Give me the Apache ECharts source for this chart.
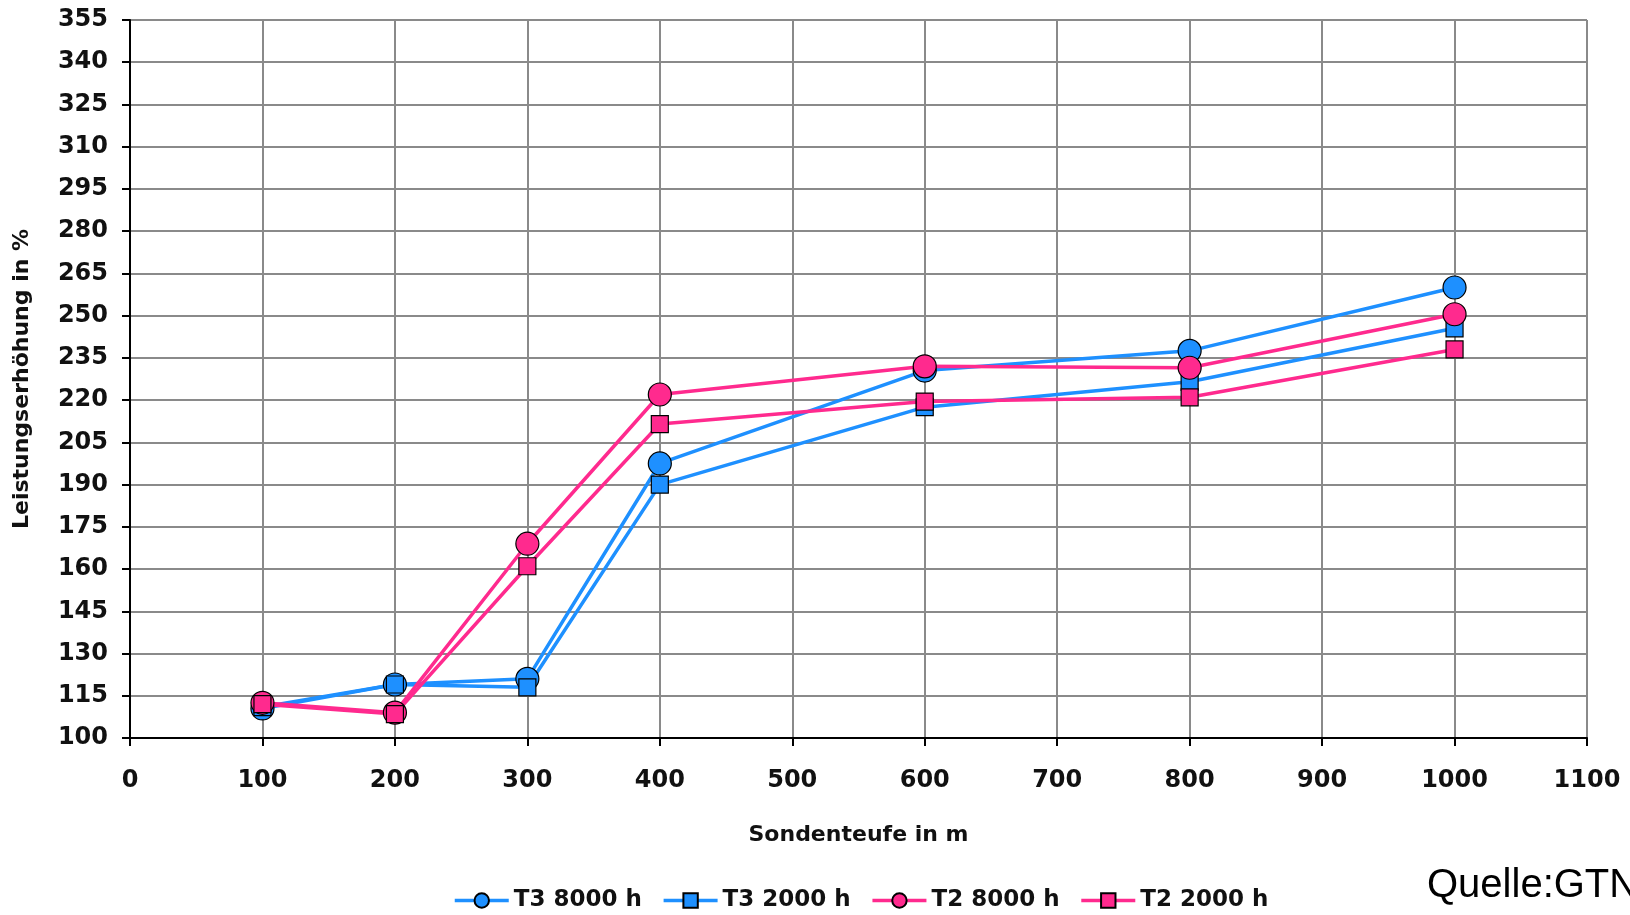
<!DOCTYPE html>
<html>
<head>
<meta charset="utf-8">
<script src="https://cdn.jsdelivr.net/npm/echarts@6/dist/echarts.min.js"></script>
<style>
html,body{margin:0;padding:0;background:#fff;}
#chart{width:1630px;height:915px;}
</style>
</head>
<body>
<div id="chart"></div>
<script>
const depths = [100, 200, 300, 400, 600, 800, 1000];
const t3_8000 = [110.5, 119, 121, 197.5, 230.5, 237.5, 260];
const t3_2000 = [111, 119, 118, 190, 217.5, 226.5, 245.5];
const t2_8000 = [112.5, 109, 169, 222, 232, 231.5, 250.5];
const t2_2000 = [112, 108.5, 161, 211.5, 219.5, 221, 238];
const seriesNames = ['T3 8000 h', 'T3 2000 h', 'T2 8000 h', 'T2 2000 h'];
const xAxisTitle = 'Sondenteufe in m';
const yAxisTitle = 'Leistungserhöhung in %';
const sourceText = 'Quelle:GTN';

const BLUE = '#1E90FF';
const PINK = '#FF2A8E';
const FONT = 'DejaVu Sans';

function pairs(vals) { return depths.map((d, i) => [d, vals[i]]); }
function mk(name, vals, color, symbol, size) {
  return {
    name: name, type: 'line', data: pairs(vals),
    symbol: symbol, symbolSize: size, showAllSymbol: true,
    lineStyle: { color: color, width: 3.5 },
    itemStyle: { color: color, borderColor: '#000', borderWidth: 1.2 },
    emphasis: { disabled: true },
    animation: false
  };
}

const chart = echarts.init(document.getElementById('chart'), null, { renderer: 'canvas' });
chart.setOption({
  backgroundColor: '#fff',
  animation: false,
  grid: { left: 130, right: 43, top: 20, bottom: 177, containLabel: false },
  xAxis: {
    type: 'value', min: 0, max: 1100, interval: 100,
    name: xAxisTitle, nameLocation: 'middle', nameGap: 86,
    nameTextStyle: { fontFamily: FONT, fontSize: 22, fontWeight: 'bold', color: '#111' },
    axisLine: { show: true, lineStyle: { color: '#000', width: 2 } },
    axisTick: { show: true, length: 8, lineStyle: { color: '#000', width: 2 } },
    axisLabel: { fontFamily: FONT, fontSize: 24, fontWeight: 'bold', color: '#111', margin: 31,
                 formatter: v => String(v) },
    splitLine: { show: true, lineStyle: { color: '#8a8a8a', width: 2 } }
  },
  yAxis: {
    type: 'value', min: 100, max: 355, interval: 15,
    name: yAxisTitle, nameLocation: 'middle', nameGap: 97, nameRotate: 90,
    nameTextStyle: { fontFamily: FONT, fontSize: 22, fontWeight: 'bold', color: '#111' },
    axisLine: { show: true, lineStyle: { color: '#000', width: 2 } },
    axisTick: { show: true, length: 8, lineStyle: { color: '#000', width: 2 } },
    axisLabel: { fontFamily: FONT, fontSize: 24, fontWeight: 'bold', color: '#111', margin: 22,
                 formatter: v => String(v) },
    splitLine: { show: true, lineStyle: { color: '#8a8a8a', width: 2 } }
  },
  legend: {
    data: seriesNames, bottom: -2, left: 448,
    itemWidth: 54, itemHeight: 18, itemGap: 20,
    lineStyle: { width: 3.5 },
    textStyle: { fontFamily: FONT, fontSize: 23, fontWeight: 'bold', color: '#111' }
  },
  graphic: [{
    type: 'text', left: 1427, top: 866,
    style: { text: sourceText, font: '40px "Liberation Sans"', fill: '#000' }
  }],
  series: [
    mk(seriesNames[0], t3_8000, BLUE, 'circle', 23),
    mk(seriesNames[1], t3_2000, BLUE, 'rect', 17),
    mk(seriesNames[2], t2_8000, PINK, 'circle', 23),
    mk(seriesNames[3], t2_2000, PINK, 'rect', 17)
  ]
});
</script>
</body>
</html>
